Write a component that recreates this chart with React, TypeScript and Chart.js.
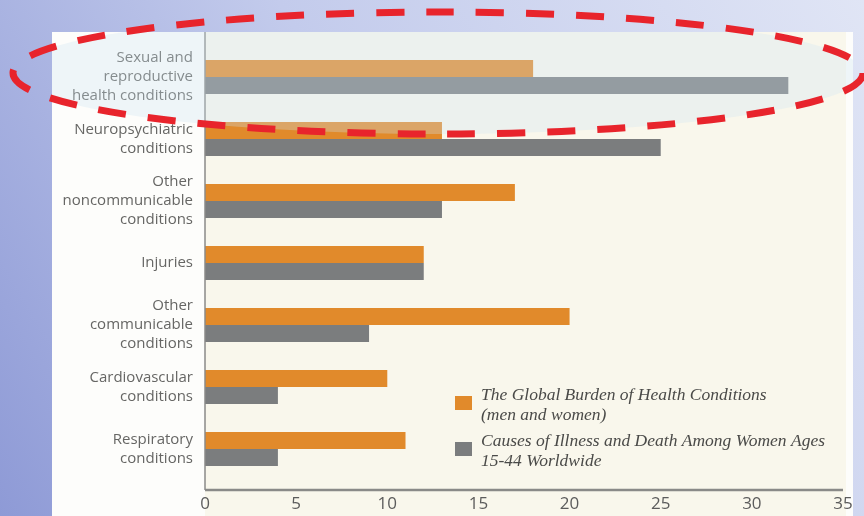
import React, { useEffect, useRef } from "react";
import { Chart, registerables } from "chart.js";

Chart.register(...registerables);

const categories: string[][] = [
  ["Sexual and", "reproductive", "health conditions"],
  ["Neuropsychiatric", "conditions"],
  ["Other", "noncommunicable", "conditions"],
  ["Injuries"],
  ["Other", "communicable", "conditions"],
  ["Cardiovascular", "conditions"],
  ["Respiratory", "conditions"],
];
const globalBurden: number[] = [18, 13, 17, 12, 20, 10, 11];
const womenBurden: number[] = [32, 25, 13, 12, 9, 4, 4];
const xTicks: number[] = [0, 5, 10, 15, 20, 25, 30, 35];
const legendGlobal: string[] = ["The Global Burden of Health Conditions", "(men and women)"];
const legendWomen: string[] = ["Causes of Illness and Death Among Women Ages", "15-44 Worldwide"];

const ORANGE = "#e18a2b";
const GRAY = "#7b7d7e";

const decorPlugin = {
  id: "decor",
  beforeDraw(chart: any) {
    const ctx = chart.ctx as CanvasRenderingContext2D;
    const W = chart.width;
    const H = chart.height;
    ctx.save();
    const g = ctx.createLinearGradient(W, 0, 0, H);
    g.addColorStop(0, "#e0e5f5");
    g.addColorStop(0.5, "#c3cbec");
    g.addColorStop(1, "#8e9ad6");
    ctx.fillStyle = g;
    ctx.fillRect(0, 0, W, H);
    // panel
    ctx.fillStyle = "#fdfdfb";
    ctx.fillRect(52, 32, 801, H - 32);
    const ca = chart.chartArea;
    ctx.fillStyle = "#f9f7ec";
    ctx.fillRect(ca.left, 32, 846 - ca.left, H - 32);
    ctx.restore();
  },
  afterDatasetsDraw(chart: any) {
    const ctx = chart.ctx as CanvasRenderingContext2D;
    const x = chart.scales.x;
    const ca = chart.chartArea;
    const x0 = x.getPixelForValue(0);
    const x35 = x.getPixelForValue(35);
    ctx.save();
    ctx.strokeStyle = "#8a8a88";
    ctx.lineWidth = 1.5;
    ctx.beginPath();
    ctx.moveTo(x0, 32);
    ctx.lineTo(x0, ca.bottom + 10);
    ctx.stroke();
    ctx.lineWidth = 2.5;
    ctx.beginPath();
    ctx.moveTo(x0, ca.bottom + 10);
    ctx.lineTo(x35, ca.bottom + 10);
    ctx.stroke();
    ctx.restore();
  },
  afterDraw(chart: any) {
    const ctx = chart.ctx as CanvasRenderingContext2D;
    const H = chart.height;
    ctx.save();
    // legend
    const items = [
      { color: ORANGE, lines: legendGlobal, y: 395 },
      { color: GRAY, lines: legendWomen, y: 441 },
    ];
    ctx.font = "italic 17.5px 'Liberation Serif', serif";
    ctx.textBaseline = "middle";
    ctx.textAlign = "left";
    for (const it of items) {
      ctx.fillStyle = it.color;
      ctx.fillRect(455, it.y + 1, 17, 14);
      ctx.fillStyle = "#4a4a48";
      it.lines.forEach((t, i) => ctx.fillText(t, 481, it.y + i * 20));
    }
    // ellipse highlight (tint only on the panel)
    ctx.save();
    ctx.beginPath();
    ctx.rect(52, 32, 801, H - 32);
    ctx.clip();
    ctx.beginPath();
    ctx.ellipse(438, 73, 425, 61, 0, 0, Math.PI * 2);
    ctx.fillStyle = "rgba(205,228,242,0.3)";
    ctx.fill();
    ctx.restore();
    ctx.beginPath();
    ctx.ellipse(438, 73, 425, 61, 0, 0, Math.PI * 2);
    ctx.setLineDash([28, 22]);
    ctx.lineWidth = 7;
    ctx.strokeStyle = "#e8242c";
    ctx.stroke();
    ctx.restore();
  },
};

export default function App() {
  const ref = useRef<HTMLCanvasElement | null>(null);
  useEffect(() => {
    document.body.style.margin = "0";
    const canvas = ref.current!;
    const chart = new Chart(canvas, {
      type: "bar",
      data: {
        labels: categories,
        datasets: [
          { label: legendGlobal.join(" "), data: globalBurden, backgroundColor: ORANGE },
          { label: legendWomen.join(" "), data: womenBurden, backgroundColor: GRAY },
        ],
      },
      options: {
        indexAxis: "y",
        responsive: false,
        animation: false,
        layout: { padding: { top: 46, right: 21, left: 0, bottom: 0 } },
        datasets: { bar: { categoryPercentage: 0.55, barPercentage: 1 } },
        plugins: { legend: { display: false }, tooltip: { enabled: false } },
        scales: {
          x: {
            type: "linear",
            min: 0,
            max: 35,
            afterBuildTicks: (s: any) => {
              s.ticks = xTicks.map((v) => ({ value: v }));
            },
            afterFit: (s: any) => {
              s.height = 36;
              s.paddingLeft = 0;
              s.paddingRight = 0;
            },
            grid: { display: false, drawTicks: false },
            border: { display: false },
            ticks: {
              padding: 14,
              color: "#5c5c5c",
              font: { family: "'Open Sans', sans-serif", size: 17 },
            },
          },
          y: {
            type: "category",
            offset: true,
            afterFit: (s: any) => {
              s.width = 205;
              s.paddingTop = 0;
              s.paddingBottom = 0;
            },
            grid: { display: false, drawTicks: false },
            border: { display: false },
            ticks: {
              padding: 12,
              color: "#666664",
              font: { family: "'Open Sans', sans-serif", size: 15, lineHeight: 1.28 },
            },
          },
        },
      },
      plugins: [decorPlugin],
    } as any);
    return () => chart.destroy();
  }, []);
  return (
    <div style={{ width: 864, height: 516 }}>
      <canvas ref={ref} width={864} height={516} style={{ display: "block" }} />
    </div>
  );
}
